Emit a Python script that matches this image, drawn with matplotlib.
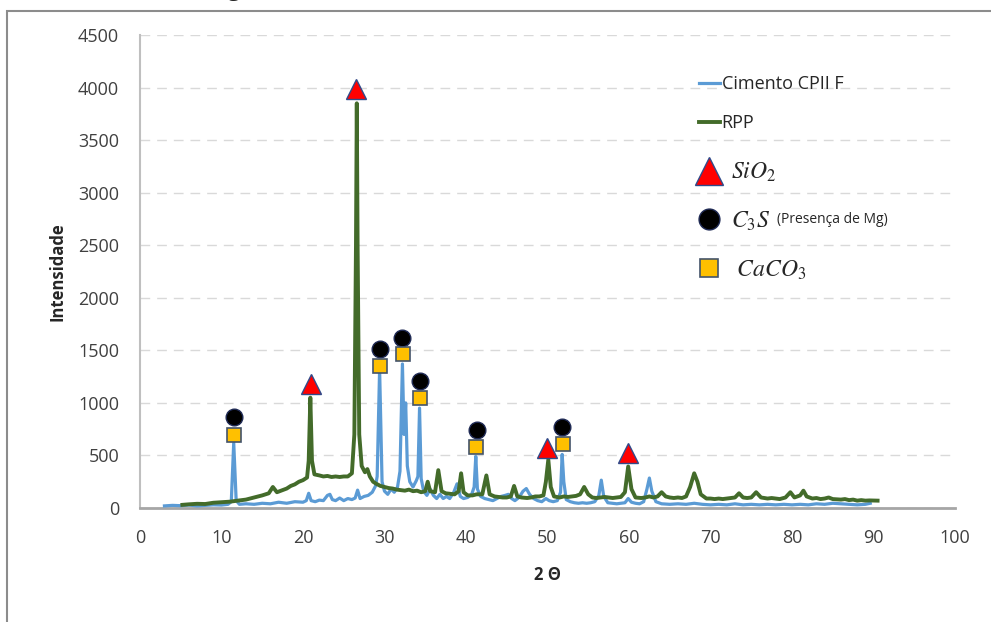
import matplotlib
matplotlib.use('Agg')
import matplotlib.pyplot as plt
from matplotlib.lines import Line2D
from matplotlib.patches import Rectangle

plt.rcParams['font.family'] = ['Open Sans', 'DejaVu Sans']
plt.rcParams['mathtext.fontset'] = 'stix'

# Cimento CPII F (blue)
cim_x = [3.0, 4, 5, 6, 7, 8, 9, 10, 10.8, 11.2, 11.5, 11.8, 12.2, 13, 14, 15, 16, 17, 18, 19, 20,
         20.4, 20.7, 21.0, 21.5, 22, 22.5, 23.0, 23.3, 23.6, 24, 24.5, 25, 25.5, 26, 26.4, 26.7, 27.0,
         27.5, 28, 28.5, 28.9, 29.1, 29.4, 29.7, 30.0, 30.4, 30.8, 31.2, 31.6, 31.9, 32.2, 32.4, 32.6,
         32.8, 33.1, 33.5, 33.9, 34.1, 34.3, 34.5, 34.8, 35.2, 35.6, 36.0, 36.4, 36.8, 37.2, 37.6, 38.0,
         38.5, 38.9, 39.3, 39.7, 40.2, 40.7, 41.0, 41.2, 41.4, 41.8, 42.3, 42.8, 43.3, 43.8, 44.3, 44.8,
         45.2, 45.6, 46.0, 46.5, 47.0, 47.4, 47.8, 48.3, 48.8, 49.3, 49.8, 50.2, 50.7, 51.2, 51.6, 51.8,
         52.0, 52.3, 52.8, 53.3, 53.8, 54.3, 54.8, 55.3, 55.8, 56.3, 56.6, 56.9, 57.4, 58, 58.5, 59,
         59.5, 59.9, 60.3, 60.8, 61.3, 61.8, 62.2, 62.5, 62.8, 63.3, 64, 65, 66, 67, 68, 69, 70, 71, 72,
         73, 74, 75, 76, 77, 78, 79, 80, 81, 82, 83, 84, 85, 86, 87, 88, 89, 89.6]
cim_y = [20, 25, 22, 28, 20, 25, 30, 28, 35, 60, 620, 70, 35, 40, 35, 45, 40, 55, 45, 60, 55,
         70, 140, 70, 60, 75, 70, 120, 130, 80, 70, 95, 70, 90, 80, 95, 170, 90,
         110, 120, 150, 210, 300, 1320, 250, 160, 130, 180, 150, 200, 350, 1370, 700, 1000,
         400, 250, 200, 260, 300, 950, 280, 160, 120, 180, 120, 90, 130, 90, 110, 90,
         150, 230, 110, 90, 100, 130, 200, 490, 180, 110, 90, 80, 70, 90, 110, 120,
         130, 90, 70, 100, 160, 185, 130, 90, 70, 60, 90, 70, 60, 70, 150, 510,
         250, 80, 60, 50, 45, 50, 45, 50, 60, 120, 265, 110, 50, 45, 40, 45,
         50, 90, 55, 45, 40, 60, 180, 285, 160, 60, 40, 35, 40, 35, 45, 35, 30, 35, 30,
         40, 30, 35, 30, 35, 30, 35, 30, 35, 30, 40, 35, 45, 40, 35, 30, 35, 45]

# RPP (green)
rpp_x = [5.2, 6, 7, 8, 9, 10, 11, 12, 13, 14, 15, 15.8, 16.3, 16.8, 17.5, 18, 18.5, 19, 19.5, 20,
         20.5, 20.7, 20.9, 21.1, 21.4, 22, 22.5, 23, 23.5, 24, 24.5, 25, 25.5, 26, 26.3, 26.5, 26.6,
         26.7, 26.9, 27.2, 27.6, 27.9, 28.2, 28.6, 29, 29.5, 30, 30.5, 31, 31.5, 32, 32.5, 33, 33.5,
         34, 34.5, 35.0, 35.3, 35.6, 36.2, 36.6, 37.0, 37.5, 38, 38.6, 39.1, 39.4, 39.7, 40.2, 40.8,
         41.3, 42.0, 42.5, 42.9, 43.5, 44, 44.5, 45, 45.5, 45.9, 46.3, 46.8, 47.5, 48, 48.5, 49, 49.5,
         49.8, 50.1, 50.4, 50.8, 51.5, 52, 52.5, 53, 53.5, 54, 54.5, 55, 55.5, 56, 56.5, 57, 57.5, 58,
         58.5, 59, 59.5, 59.9, 60.3, 60.8, 61.5, 62, 62.5, 63, 63.5, 64, 64.5, 65, 65.5, 66, 66.5, 67,
         67.5, 68, 68.4, 68.8, 69.5, 70, 70.5, 71, 71.5, 72, 72.5, 73, 73.5, 74, 74.5, 75, 75.6, 76.2,
         77, 77.5, 78, 78.5, 79.2, 79.8, 80.3, 81.0, 81.4, 81.8, 82.5, 83, 83.5, 84, 84.5, 85, 86, 86.5,
         87, 87.5, 88, 88.5, 89, 89.5, 90.5]
rpp_y = [30, 35, 40, 38, 50, 55, 60, 70, 80, 100, 120, 140, 200, 150, 170, 185, 210, 225, 250, 265,
         290, 450, 1050, 450, 320, 310, 300, 305, 295, 300, 295, 300, 300, 330, 700, 2500, 3850,
         2500, 700, 400, 340, 370, 300, 250, 230, 210, 200, 190, 185, 175, 170, 165, 175, 160,
         165, 150, 160, 250, 160, 150, 360, 160, 140, 135, 130, 160, 330, 150, 120, 120,
         130, 130, 310, 130, 110, 105, 100, 100, 110, 210, 110, 100, 95, 100, 110, 110, 120,
         250, 460, 200, 110, 100, 110, 105, 110, 115, 130, 200, 130, 100, 95, 100, 105, 100, 95,
         100, 105, 150, 395, 180, 100, 95, 100, 110, 100, 110, 150, 110, 100, 95, 100, 95, 110,
         200, 330, 250, 130, 90, 90, 85, 90, 85, 90, 95, 100, 140, 100, 95, 100, 150, 100,
         90, 95, 90, 85, 100, 150, 100, 120, 165, 110, 90, 95, 85, 90, 100, 85, 80, 85,
         75, 80, 70, 75, 70, 72, 70]

# phase identification symbols
sio2_x = [21.0, 26.5, 49.9, 59.9]
sio2_y = [1180, 3990, 575, 525]
c3s_x = [11.5, 29.4, 32.2, 34.3, 41.3, 51.8]
c3s_y = [865, 1510, 1620, 1210, 740, 770]
caco3_x = [11.5, 29.5, 32.3, 34.4, 41.2, 51.9]
caco3_y = [695, 1350, 1465, 1050, 580, 605]

blue = '#5B9BD5'
green = '#436B2A'
edge = '#2F4A8A'

fig = plt.figure(figsize=(9.91, 6.22), dpi=100)
ax = fig.add_axes([140 / 991, 1 - 508 / 622, 815 / 991, 473 / 622])

ax.plot(cim_x, cim_y, color=blue, lw=2.3, zorder=3)
ax.plot(rpp_x, rpp_y, color=green, lw=2.8, zorder=4)

tri_style = dict(ls='none', marker='^', ms=15, mfc='#FF0000', mec=edge, mew=1.0, zorder=6)
circ_style = dict(ls='none', marker='o', ms=12, mfc='black', mec='#1F2A55', mew=1.0, zorder=6)
sq_style = dict(ls='none', marker='s', ms=10, mfc='#FFC000', mec='#44546A', mew=1.2, zorder=6)
ax.plot(sio2_x, sio2_y, **tri_style)
ax.plot(c3s_x, c3s_y, **circ_style)
ax.plot(caco3_x, caco3_y, **sq_style)

ax.set_xlim(0, 100)
ax.set_ylim(0, 4500)
ax.set_xticks(range(0, 101, 10))
ax.set_yticks(range(0, 4501, 500))
ax.tick_params(length=0, labelsize=13, labelcolor='#404040', pad=15)
ax.yaxis.grid(True, color='#D9D9D9', lw=1, dashes=(7, 5))
ax.set_axisbelow(True)
for s in ['top', 'right']:
    ax.spines[s].set_visible(False)
ax.spines['left'].set_color('#BFBFBF')
ax.spines['left'].set_linewidth(1.5)
ax.spines['bottom'].set_color('#A6A6A6')
ax.spines['bottom'].set_linewidth(2)

ax.set_ylabel('Intensidade', fontsize=12, fontweight='bold', color='#262626', labelpad=8)
ax.set_xlabel('2 Θ', fontsize=12, fontweight='bold', color='#262626', labelpad=14)

line_handles = [Line2D([], [], color=blue, lw=2.3), Line2D([], [], color=green, lw=2.8)]
leg1 = ax.legend(line_handles, ['Cimento CPII F', 'RPP'], loc='upper left',
                 bbox_to_anchor=(0.686, 0.915), frameon=False, fontsize=13,
                 handlelength=1.15, handletextpad=0.1, labelspacing=1.15,
                 borderpad=0, borderaxespad=0)
for t in leg1.get_texts():
    t.set_color('#262626')
ax.add_artist(leg1)

sym_handles = [Line2D([], [], ls='none', marker='^', ms=20, mfc='#FF0000', mec=edge, mew=1.0),
               Line2D([], [], ls='none', marker='o', ms=15, mfc='black', mec='#1F2A55', mew=1.0),
               Line2D([], [], ls='none', marker='s', ms=13, mfc='#FFC000', mec='#44546A', mew=1.2)]
leg2 = ax.legend(sym_handles, [r'$SiO_2$', r'$C_3S$', r'$\ CaCO_3$'], loc='upper left',
                 bbox_to_anchor=(0.684, 0.734), frameon=False, fontsize=17,
                 handlelength=1.0, handletextpad=0.4, labelspacing=1.05,
                 borderpad=0, borderaxespad=0)
for t in leg2.get_texts():
    t.set_color('#262626')
ax.text(0.7816, 0.61, '(Presença de Mg)', transform=ax.transAxes, fontsize=10,
        color='#262626', ha='left', va='center')

# outer picture frame and the cut caption above it
fig.patches.append(Rectangle((7 / 991, -0.01), 1.0, 1 - 11 / 622 + 0.01, transform=fig.transFigure,
                             fill=False, edgecolor='#8C8C8C', lw=1.5))
fig.text(228 / 991, 1 + 4 / 622, 'g', fontsize=16, color='#262626', ha='left', va='baseline')

plt.savefig('out.png', dpi=100)
